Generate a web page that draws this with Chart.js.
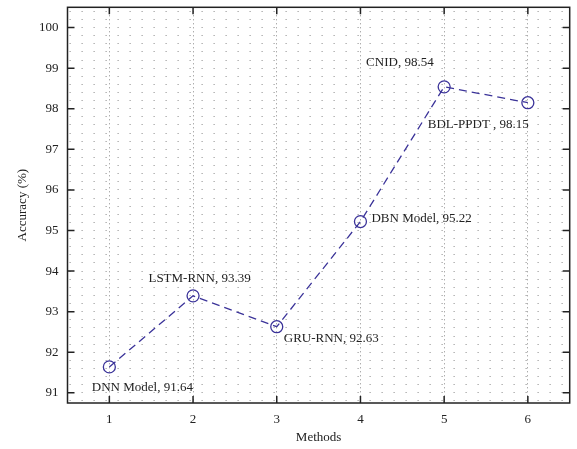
<!DOCTYPE html>
<html>
<head>
<meta charset="utf-8">
<script src="https://cdn.jsdelivr.net/npm/chart.js@4/dist/chart.umd.min.js"></script>
<style>
  html, body { margin: 0; padding: 0; background: #fff; }
  #wrap { width: 577px; height: 449px; }
</style>
</head>
<body>
<div id="wrap"><canvas id="c" width="577" height="449"></canvas></div>
<script>
// ---- data ----
const methods = [1, 2, 3, 4, 5, 6];
const methodNames = ["DNN Model", "LSTM-RNN", "GRU-RNN", "DBN Model", "CNID", "BDL-PPDT "];
const accuracy = [91.64, 93.39, 92.63, 95.22, 98.54, 98.15];
const xTickLabels = ["1", "2", "3", "4", "5", "6"];
const yTickLabels = [91, 92, 93, 94, 95, 96, 97, 98, 99, 100];

// ---- styles ----
const LINE_COLOR = '#3b3399';
const DOT_COLOR = '#8a8a8a';
const AXIS_COLOR = '#222';
const FONT = '"Liberation Serif", "DejaVu Serif", serif';

// label placement relative to each point: [dx, dy, align]
const labelPlacement = [
  [33, 21, 'center'],
  [6.5, -17, 'center'],
  [7, 11.5, 'left'],
  [11, -3.5, 'left'],
  [-10.5, -24.5, 'right'],
  [1, 22, 'right']
];

const Y_MIN = 90.75, Y_MAX = 100.5, MINOR_STEP = 0.2;

const frameAndLabels = {
  id: 'frameAndLabels',
  afterDatasetsDraw(chart) {
    const ctx = chart.ctx;
    const a = chart.chartArea;
    const xs = chart.scales.x, ys = chart.scales.y;
    ctx.save();
    // frame
    ctx.strokeStyle = AXIS_COLOR;
    ctx.lineWidth = 1.5;
    ctx.strokeRect(a.left, a.top, a.right - a.left, a.bottom - a.top);
    // inward ticks
    ctx.lineWidth = 1.5;
    ctx.beginPath();
    methods.forEach(v => {
      const px = xs.getPixelForValue(v);
      ctx.moveTo(px, a.bottom); ctx.lineTo(px, a.bottom - 7);
      ctx.moveTo(px, a.top); ctx.lineTo(px, a.top + 7);
    });
    yTickLabels.forEach(v => {
      const py = ys.getPixelForValue(v);
      ctx.moveTo(a.left, py); ctx.lineTo(a.left + 7, py);
      ctx.moveTo(a.right, py); ctx.lineTo(a.right - 7, py);
    });
    ctx.stroke();
    // point labels
    ctx.fillStyle = '#222';
    ctx.font = '13px ' + FONT;
    ctx.textBaseline = 'middle';
    const meta = chart.getDatasetMeta(0);
    meta.data.forEach((pt, i) => {
      const [dx, dy, align] = labelPlacement[i];
      ctx.textAlign = align;
      ctx.fillText(methodNames[i] + ', ' + accuracy[i].toFixed(2), pt.x + dx, pt.y + dy);
    });
    ctx.restore();
  }
};

new Chart(document.getElementById('c'), {
  type: 'line',
  data: {
    datasets: [{
      data: methods.map((m, i) => ({ x: m, y: accuracy[i] })),
      borderColor: LINE_COLOR,
      borderWidth: 1.3,
      borderDash: [8, 5],
      pointStyle: 'circle',
      pointRadius: 6,
      pointBorderWidth: 1.3,
      pointBorderColor: LINE_COLOR,
      pointBackgroundColor: 'rgba(0,0,0,0)',
      tension: 0,
      fill: false
    }]
  },
  options: {
    responsive: false,
    animation: false,
    devicePixelRatio: 1,
    layout: { padding: { top: 4, right: 2, left: 0, bottom: 0 } },
    plugins: { legend: { display: false }, tooltip: { enabled: false } },
    scales: {
      x: {
        type: 'linear',
        min: 0.5, max: 6.5,
        afterBuildTicks(scale) {
          scale.ticks = methods.map(v => ({ value: v }));
        },
        afterFit(scale) {
          scale.height = 46;
          scale.paddingLeft = 0; scale.paddingRight = 0;
        },
        ticks: {
          callback: (v) => xTickLabels[methods.indexOf(v)] ?? '',
          color: '#222',
          font: { family: FONT, size: 13 },
          padding: 9,
          maxRotation: 0
        },
        grid: {
          color: DOT_COLOR,
          lineWidth: 1,
          drawTicks: false
        },
        border: { display: false, dash: [1, 3] },
        title: {
          display: true,
          text: 'Methods',
          color: '#222',
          font: { family: FONT, size: 13 },
          padding: { top: 0, bottom: 4 }
        }
      },
      y: {
        type: 'linear',
        min: Y_MIN, max: Y_MAX,
        afterBuildTicks(scale) {
          const t = [];
          for (let k = Math.ceil(Y_MIN / MINOR_STEP); k * MINOR_STEP <= Y_MAX + 1e-9; k++) {
            t.push({ value: Math.round(k * MINOR_STEP * 10) / 10 });
          }
          scale.ticks = t;
        },
        afterFit(scale) {
          scale.width = 67.5;
          scale.paddingTop = 0; scale.paddingBottom = 0;
        },
        ticks: {
          autoSkip: false,
          callback: (v) => yTickLabels.includes(v) ? String(v) : '',
          color: '#222',
          font: { family: FONT, size: 13 },
          padding: 9
        },
        grid: {
          color: DOT_COLOR,
          lineWidth: 1,
          drawTicks: false
        },
        border: { display: false, dash: [1, 11], dashOffset: 10.4 },
        title: {
          display: true,
          text: 'Accuracy (%)',
          color: '#222',
          font: { family: FONT, size: 13 },
          padding: { top: 15, bottom: 0 }
        }
      }
    }
  },
  plugins: [frameAndLabels]
});
</script>
</body>
</html>
